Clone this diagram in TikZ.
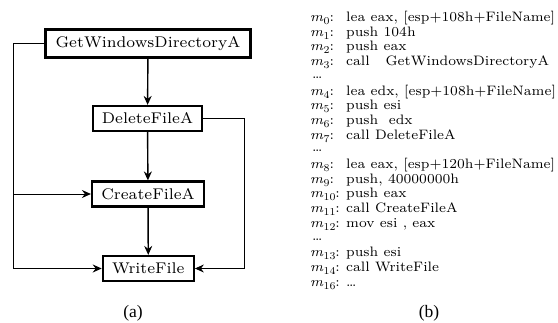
\documentclass[tikz,border=0pt]{standalone}
\usepackage{fontspec}
\usetikzlibrary{arrows.meta}
\newfontfamily\capfont{Liberation Serif}
\newfontfamily\wide{lmroman7-regular.otf}[ItalicFont=lmroman7-italic.otf]
% index label m_i set in italics with a lowered index
\newcommand{\mlab}[1]{\textit{m}\raisebox{-0.22em}{\fontsize{10.5}{12}\selectfont #1}:}
\begin{document}
\begin{tikzpicture}[x=1pt,y=-1pt,
  fn/.style={draw, line width=2.2pt, font=\wide\fontsize{15.5}{18}\selectfont,
    inner xsep=2pt, inner ysep=0pt, minimum height=25pt},
  flow/.style={line width=1.4pt, -{Stealth[length=9pt,width=8pt,inset=3pt]}},
  side/.style={line width=0.9pt, -{Stealth[length=9pt,width=8pt,inset=3pt]}},
  lbl/.style={anchor=base west, inner sep=0pt, font=\wide\fontsize{13.7}{16}\selectfont},
  captxt/.style={inner sep=0pt, font=\capfont\fontsize{17.5}{20}\selectfont}]
\useasboundingbox (0,0) rectangle (558,322);

% call graph
\node[fn, minimum width=205pt, minimum height=28pt] (gw) at (148,43.5) {GetWindowsDirectoryA};
\node[fn, minimum width=109pt] (df) at (147.5,118.5) {DeleteFileA};
\node[fn, minimum width=112pt] (cf) at (148,194) {CreateFileA};
\node[fn, minimum width=91pt] (wf) at (148.3,268.5) {WriteFile};
\coordinate (lt) at (13.3,43.5);
\coordinate (lm) at (13.3,194);
\coordinate (lb) at (13.3,268.5);
\coordinate (rt) at (244.3,118.5);
\coordinate (rb) at (244.3,268.5);

\draw[flow] (gw) -- (df);
\draw[flow] (df) -- (cf);
\draw[flow] (cf) -- (wf);
\draw[side] (gw.west) -- (lt) -- (lb) -- (wf.west);
\draw[side] (lm) -- (cf.west);
\draw[side] (df.east) -- (rt) -- (rb) -- (wf.east);

% disassembly listing
\def\lx{310}
\def\ix{346}
\def\yb{21.5}
\def\dy{14.7}
\foreach \i/\lab/\ins in {
  0/{\mlab{0}}/{lea eax, [esp+108h+FileName]},
  1/{\mlab{1}}/{push 104h},
  2/{\mlab{2}}/{push eax},
  3/{\mlab{3}}/{call \ \ GetWindowsDirectoryA},
  5/{\mlab{4}}/{lea edx, [esp+108h+FileName]},
  6/{\mlab{5}}/{push esi},
  7/{\mlab{6}}/{push \ edx},
  8/{\mlab{7}}/{call DeleteFileA},
  10/{\mlab{8}}/{lea eax, [esp+120h+FileName]},
  11/{\mlab{9}}/{push, 40000000h},
  12/{\mlab{10}}/{push eax},
  13/{\mlab{11}}/{call CreateFileA},
  14/{\mlab{12}}/{mov esi , eax},
  16/{\mlab{13}}/{push esi},
  17/{\mlab{14}}/{call WriteFile},
  18/{\mlab{16}}/{\ldots}}{
  \node[lbl] (m\i) at (\lx,\yb+\i*\dy) {\lab};
  \node[lbl] (c\i) at (\ix,\yb+\i*\dy) {\ins};
}
\foreach \i in {4,9,15}{
  \node[lbl] (d\i) at (\lx+2,\yb+\i*\dy-2) {\ldots};
}

% captions
\node[captxt] (ca) at (133,313) {(a)};
\node[captxt] (cb) at (429,313) {(b)};
\end{tikzpicture}
\end{document}
